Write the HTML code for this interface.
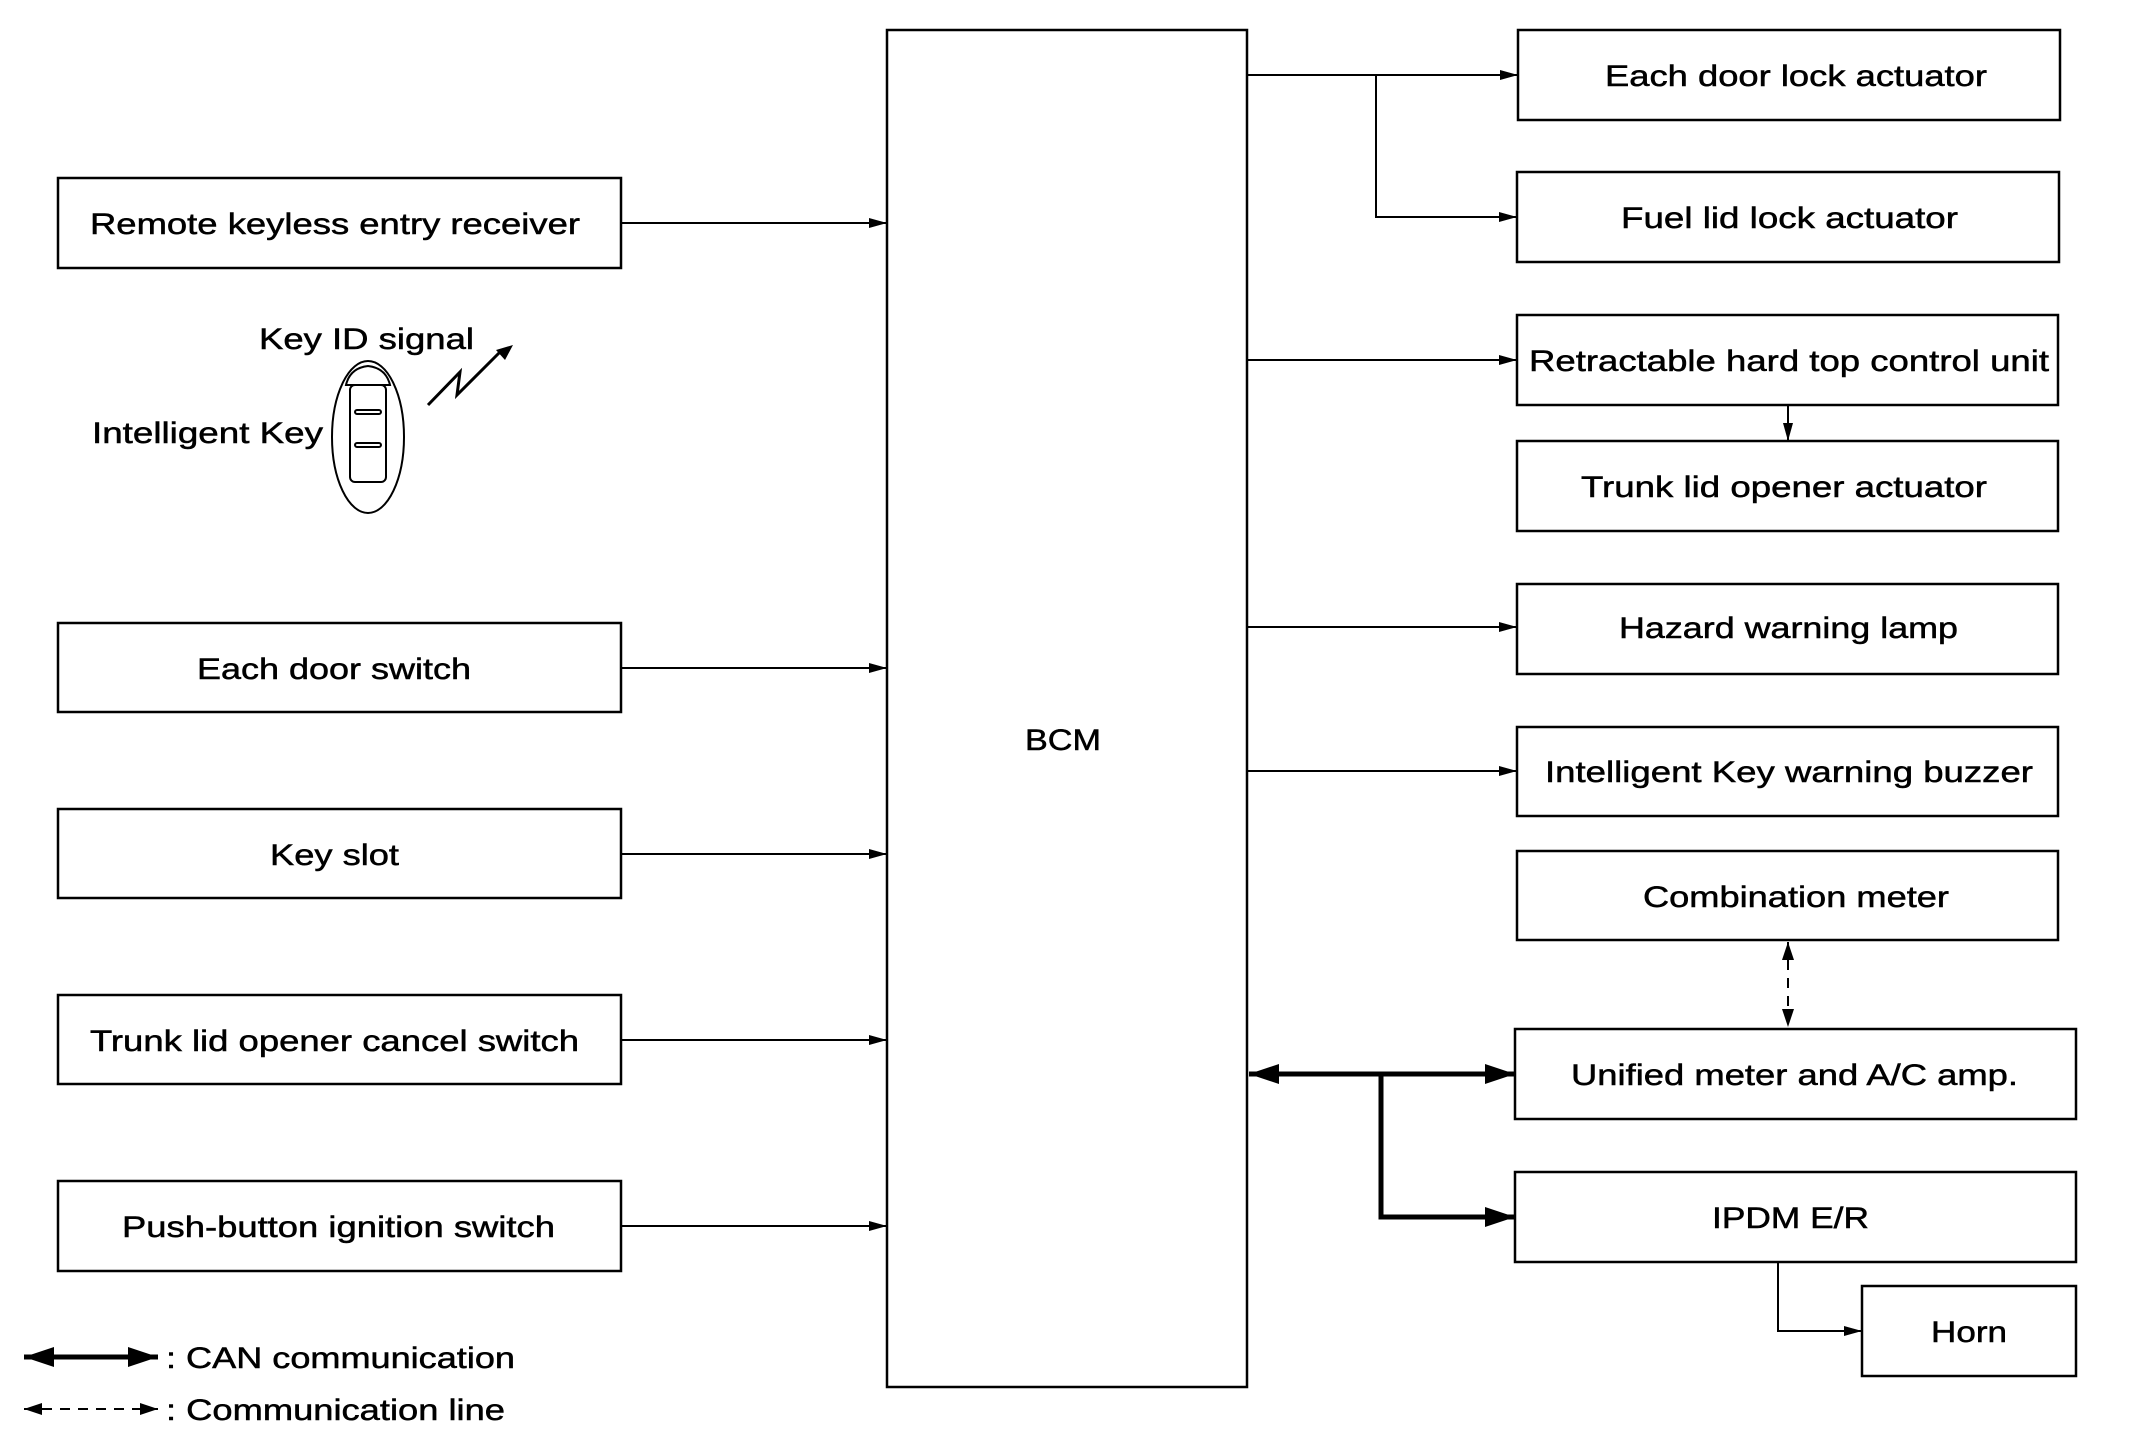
<!DOCTYPE html>
<html><head><meta charset="utf-8"><style>
html,body{margin:0;padding:0;background:#fff;}
svg{display:block;}
text{font-family:"Liberation Sans",sans-serif;font-size:30px;fill:#000;stroke:#000;stroke-width:0.5px;}
</style></head><body>
<svg width="2130" height="1445" viewBox="0 0 2130 1445" xmlns="http://www.w3.org/2000/svg">
<defs>
<marker id="a" markerWidth="18" markerHeight="10" refX="18" refY="5" orient="auto" markerUnits="userSpaceOnUse"><path d="M0,0 L18,5 L0,10 Z" fill="#000"/></marker>
<marker id="b" markerWidth="30" markerHeight="20" refX="30" refY="10" orient="auto-start-reverse" markerUnits="userSpaceOnUse"><path d="M0,0 L30,10 L0,20 Z" fill="#000"/></marker>
<marker id="c" markerWidth="18" markerHeight="12" refX="18" refY="6" orient="auto-start-reverse" markerUnits="userSpaceOnUse"><path d="M0,0 L18,6 L0,12 Z" fill="#000"/></marker>
</defs>
<g fill="none" stroke="#000" stroke-width="2.5">
<rect x="887" y="30" width="360" height="1357"/>
<rect x="58" y="178" width="563" height="90"/>
<rect x="58" y="623" width="563" height="89"/>
<rect x="58" y="809" width="563" height="89"/>
<rect x="58" y="995" width="563" height="89"/>
<rect x="58" y="1181" width="563" height="90"/>
<rect x="1518" y="30" width="542" height="90"/>
<rect x="1517" y="172" width="542" height="90"/>
<rect x="1517" y="315" width="541" height="90"/>
<rect x="1517" y="441" width="541" height="90"/>
<rect x="1517" y="584" width="541" height="90"/>
<rect x="1517" y="727" width="541" height="89"/>
<rect x="1517" y="851" width="541" height="89"/>
<rect x="1515" y="1029" width="561" height="90"/>
<rect x="1515" y="1172" width="561" height="90"/>
<rect x="1862" y="1286" width="214" height="90"/>
</g>
<g fill="none" stroke="#000" stroke-width="2">
<line x1="621" y1="223" x2="887" y2="223" marker-end="url(#a)"/>
<line x1="621" y1="668" x2="887" y2="668" marker-end="url(#a)"/>
<line x1="621" y1="854" x2="887" y2="854" marker-end="url(#a)"/>
<line x1="621" y1="1040" x2="887" y2="1040" marker-end="url(#a)"/>
<line x1="621" y1="1226" x2="887" y2="1226" marker-end="url(#a)"/>
<line x1="1247" y1="75" x2="1518" y2="75" marker-end="url(#a)"/>
<polyline points="1376,75 1376,217 1517,217" marker-end="url(#a)"/>
<line x1="1247" y1="360" x2="1517" y2="360" marker-end="url(#a)"/>
<line x1="1788" y1="405" x2="1788" y2="441" marker-end="url(#a)"/>
<line x1="1247" y1="627" x2="1517" y2="627" marker-end="url(#a)"/>
<line x1="1247" y1="771" x2="1517" y2="771" marker-end="url(#a)"/>
<polyline points="1778,1262 1778,1331 1862,1331" marker-end="url(#a)"/>
<line x1="1788" y1="942" x2="1788" y2="1027" stroke-dasharray="10,8" marker-start="url(#c)" marker-end="url(#c)"/>
<line x1="24" y1="1409" x2="158" y2="1409" stroke-dasharray="10,8" marker-start="url(#c)" marker-end="url(#c)"/>
</g>
<g fill="none" stroke="#000" stroke-width="5">
<line x1="1249" y1="1074" x2="1515" y2="1074" marker-start="url(#b)" marker-end="url(#b)"/>
<polyline points="1381,1074 1381,1217 1515,1217" marker-end="url(#b)"/>
<line x1="24" y1="1357" x2="158" y2="1357" marker-start="url(#b)" marker-end="url(#b)"/>
</g>
<g fill="none" stroke="#000" stroke-width="2">
<ellipse cx="368" cy="437" rx="36" ry="76"/>
<path d="M346,385 Q350,368 368,366 Q386,368 390,385 Z"/>
<rect x="350" y="385" width="36" height="97" rx="5"/>
<rect x="355" y="410" width="26" height="4" rx="2"/>
<rect x="355" y="443" width="26" height="4" rx="2"/>
<path d="M428,405 L460,372 L457,395 L500,352" stroke-width="3"/>
</g>
<path d="M513,345 L496,350 L505,360 Z" fill="#000"/>
<text x="90" y="234" textLength="490" lengthAdjust="spacingAndGlyphs">Remote keyless entry receiver</text>
<text x="259" y="349" textLength="215" lengthAdjust="spacingAndGlyphs">Key ID signal</text>
<text x="92" y="443" textLength="231" lengthAdjust="spacingAndGlyphs">Intelligent Key</text>
<text x="197" y="679" textLength="274" lengthAdjust="spacingAndGlyphs">Each door switch</text>
<text x="270" y="865" textLength="129" lengthAdjust="spacingAndGlyphs">Key slot</text>
<text x="90" y="1051" textLength="489" lengthAdjust="spacingAndGlyphs">Trunk lid opener cancel switch</text>
<text x="122" y="1237" textLength="433" lengthAdjust="spacingAndGlyphs">Push-button ignition switch</text>
<text x="1025" y="750" textLength="76" lengthAdjust="spacingAndGlyphs">BCM</text>
<text x="1605" y="86" textLength="382" lengthAdjust="spacingAndGlyphs">Each door lock actuator</text>
<text x="1621" y="228" textLength="337" lengthAdjust="spacingAndGlyphs">Fuel lid lock actuator</text>
<text x="1529" y="371" textLength="520" lengthAdjust="spacingAndGlyphs">Retractable hard top control unit</text>
<text x="1581" y="497" textLength="406" lengthAdjust="spacingAndGlyphs">Trunk lid opener actuator</text>
<text x="1619" y="638" textLength="339" lengthAdjust="spacingAndGlyphs">Hazard warning lamp</text>
<text x="1545" y="782" textLength="488" lengthAdjust="spacingAndGlyphs">Intelligent Key warning buzzer</text>
<text x="1643" y="907" textLength="306" lengthAdjust="spacingAndGlyphs">Combination meter</text>
<text x="1571" y="1085" textLength="447" lengthAdjust="spacingAndGlyphs">Unified meter and A/C amp.</text>
<text x="1712" y="1228" textLength="157" lengthAdjust="spacingAndGlyphs">IPDM E/R</text>
<text x="1931" y="1342" textLength="76" lengthAdjust="spacingAndGlyphs">Horn</text>
<text x="166" y="1368" textLength="349" lengthAdjust="spacingAndGlyphs">: CAN communication</text>
<text x="166" y="1420" textLength="339" lengthAdjust="spacingAndGlyphs">: Communication line</text>
</svg>
</body></html>
